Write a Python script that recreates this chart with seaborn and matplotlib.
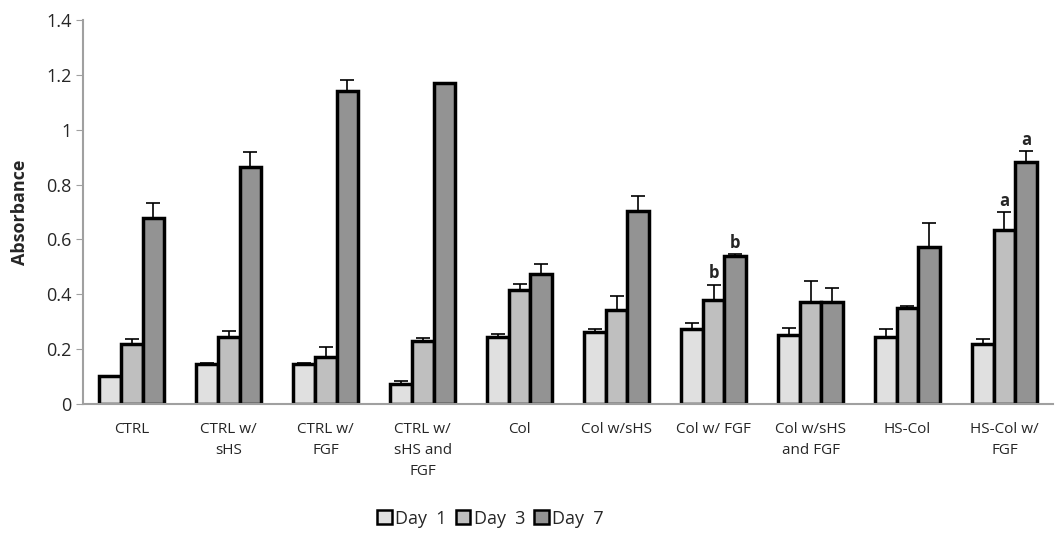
import matplotlib

matplotlib.use("Agg")
import matplotlib.pyplot as plt
import numpy as np
import pandas as pd
import seaborn as sns

groups = ["CTRL", "CTRL w/\nsHS", "CTRL w/\nFGF", "CTRL w/\nsHS and\nFGF", "Col",
          "Col w/sHS", "Col w/ FGF", "Col w/sHS\nand FGF", "HS-Col", "HS-Col w/\nFGF"]
days = ["Day  1", "Day  3", "Day  7"]
day1 = [0.100, 0.145, 0.145, 0.072, 0.242, 0.262, 0.273, 0.250, 0.242, 0.219]
day3 = [0.218, 0.242, 0.169, 0.230, 0.415, 0.342, 0.378, 0.372, 0.348, 0.633]
day7 = [0.677, 0.863, 1.142, 1.171, 0.472, 0.702, 0.540, 0.372, 0.572, 0.881]
err1 = [0.000, 0.003, 0.003, 0.009, 0.013, 0.012, 0.020, 0.026, 0.032, 0.018]
err3 = [0.018, 0.025, 0.037, 0.011, 0.021, 0.050, 0.057, 0.076, 0.007, 0.067]
err7 = [0.056, 0.055, 0.041, 0.000, 0.038, 0.055, 0.005, 0.051, 0.086, 0.042]
letters = {(6, 1): "b", (6, 2): "b", (9, 1): "a", (9, 2): "a"}
colors = ["#e0e0e0", "#bfbfbf", "#939393"]

df = pd.DataFrame({
    "group": groups * 3,
    "day": [d for d in days for _ in groups],
    "value": day1 + day3 + day7,
})
errs = [err1, err3, err7]

sns.set_style("white")
plt.rcParams["font.family"] = ["Open Sans", "DejaVu Sans"]

fig, ax = plt.subplots(figsize=(10.55, 5.36), dpi=100)
sns.barplot(data=df, x="group", y="value", hue="day", palette=colors,
            errorbar=None, width=0.67, edgecolor="black", linewidth=2.5, ax=ax)

bar_sets = list(ax.containers)
for k, cont in enumerate(bar_sets):
    xs = [p.get_x() + p.get_width() / 2 for p in cont]
    hs = [p.get_height() for p in cont]
    ax.errorbar(xs, hs, yerr=[np.zeros(len(hs)), errs[k]], fmt="none",
                ecolor="black", elinewidth=1.2, capsize=5, capthick=1.2, zorder=1)
    for i in range(len(hs)):
        if (i, k) in letters:
            ax.text(xs[i], hs[i] + errs[k][i] + 0.008, letters[(i, k)],
                    ha="center", va="bottom", fontsize=12, fontweight="bold")

ax.set_ylim(0, 1.4)
ax.set_yticks(np.arange(0, 1.41, 0.2))
ax.set_yticklabels(["0", "0.2", "0.4", "0.6", "0.8", "1", "1.2", "1.4"])
ax.set_xlim(-0.5, 9.5)
ax.set_xlabel("")
ax.set_ylabel("Absorbance", fontsize=13, fontweight="bold", labelpad=12)
ax.tick_params(axis="y", labelsize=13, length=5, color="#a0a0a0", left=True)
ax.tick_params(axis="x", labelsize=11, length=0, pad=13)
for lab in ax.get_xticklabels():
    lab.set_va("top")
    lab.set_linespacing(1.55)
for s in ["top", "right"]:
    ax.spines[s].set_visible(False)
for s in ["left", "bottom"]:
    ax.spines[s].set_color("#a0a0a0")
    ax.spines[s].set_linewidth(1.5)

ax.legend(loc="center", bbox_to_anchor=(0.42, -0.30), ncol=3, frameon=False,
          fontsize=13, handlelength=0.8, handleheight=0.8, handletextpad=0.2,
          columnspacing=0.5)
for h in ax.get_legend().legend_handles:
    h.set_linewidth(1.8)

fig.subplots_adjust(left=0.079, right=0.998, top=0.962, bottom=0.247)
fig.savefig("out.png", dpi=100)
